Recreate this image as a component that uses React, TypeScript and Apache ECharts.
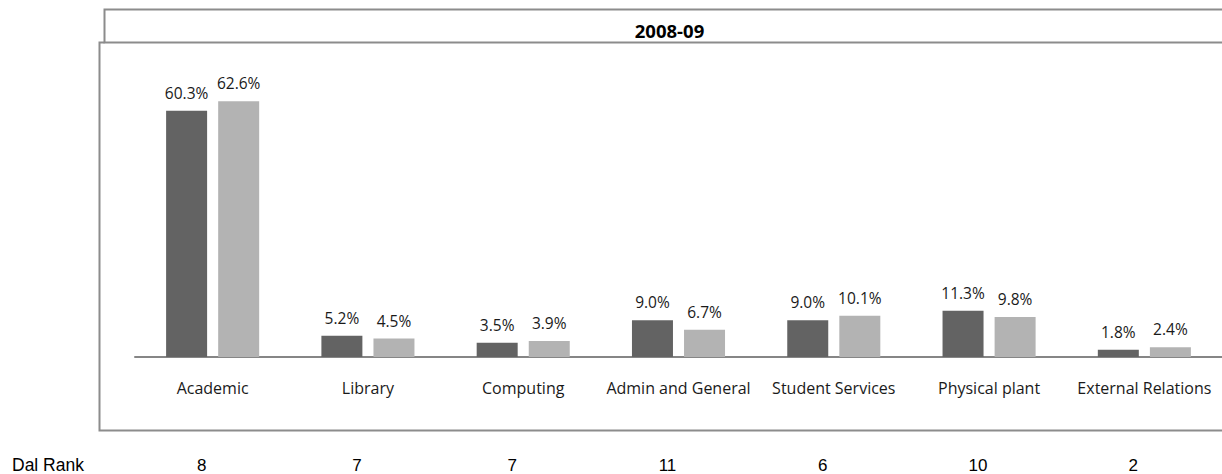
import React, { useEffect, useRef } from "react";
import * as echarts from "echarts";

const categories = [
  "Academic",
  "Library",
  "Computing",
  "Admin and General",
  "Student Services",
  "Physical plant",
  "External Relations",
];
const dalValues = [60.3, 5.2, 3.5, 9.0, 9.0, 11.3, 1.8];
const peerValues = [62.6, 4.5, 3.9, 6.7, 10.1, 9.8, 2.4];
const dalRanks = ["8", "7", "7", "11", "6", "10", "2"];
const title = "2008-09";
const rankTitle = "Dal Rank";

export default function App() {
  const ref = useRef<HTMLDivElement>(null);
  useEffect(() => {
    if (!ref.current) return;
    const chart = echarts.init(ref.current, null, { renderer: "svg" });
    const labelStyle = {
      show: true,
      position: "top" as const,
      distance: 10,
      fontFamily: "Open Sans",
      fontSize: 15.5,
      color: "#1a1a1a",
      formatter: (p: any) => Number(p.value).toFixed(1) + "%",
    };
    chart.setOption({
      animation: false,
      backgroundColor: "#ffffff",
      grid: { left: 135, right: -5, top: 71, bottom: 117 },
      xAxis: [
        {
          type: "category",
          data: categories,
          axisLine: { show: true, lineStyle: { color: "#868686", width: 2 } },
          axisTick: { show: false },
          axisLabel: {
            margin: 23,
            fontFamily: "Open Sans",
            fontSize: 16,
            color: "#1a1a1a",
            interval: 0,
          },
        },
        {
          type: "category",
          data: dalRanks,
          position: "bottom",
          offset: 98,
          axisLine: { show: false },
          axisTick: { show: false },
          axisLabel: {
            margin: 2,
            fontFamily: "Liberation Sans",
            fontSize: 17,
            color: "#000000",
            interval: 0,
            padding: [0, 22, 0, 0],
          },
        },
      ],
      yAxis: {
        type: "value",
        min: 0,
        max: 70,
        show: false,
        splitLine: { show: false },
      },
      series: [
        {
          type: "bar",
          data: dalValues,
          barWidth: 41,
          barGap: "27%",
          itemStyle: { color: "#636363" },
          label: labelStyle,
        },
        {
          type: "bar",
          data: peerValues,
          barWidth: 41,
          barGap: "27%",
          itemStyle: { color: "#b3b3b3" },
          label: labelStyle,
        },
      ],
      graphic: [
        {
          type: "rect",
          shape: { x: 104.5, y: 9.5, width: 1200, height: 33 },
          style: { fill: "none", stroke: "#8c8c8c", lineWidth: 2 },
          silent: true,
        },
        {
          type: "polyline",
          shape: {
            points: [
              [104.5, 42.5],
              [99.5, 42.5],
              [99.5, 430.5],
              [1240, 430.5],
            ],
          },
          style: { fill: "none", stroke: "#8c8c8c", lineWidth: 2 },
          silent: true,
        },
        {
          type: "text",
          x: 669.5,
          y: 30,
          style: {
            text: title,
            fontFamily: "Open Sans",
            fontWeight: "bold",
            fontSize: 18.5,
            fill: "#000000",
            align: "center",
            verticalAlign: "middle",
          },
        },
        {
          type: "text",
          x: 12,
          y: 465,
          style: {
            text: rankTitle,
            fontFamily: "Liberation Sans",
            fontSize: 17.5,
            fill: "#000000",
            align: "left",
            verticalAlign: "middle",
          },
        },
      ],
    });
    return () => chart.dispose();
  }, []);
  return (
    <div
      ref={ref}
      style={{ position: "absolute", left: 0, top: 0, width: 1222, height: 474 }}
    />
  );
}
